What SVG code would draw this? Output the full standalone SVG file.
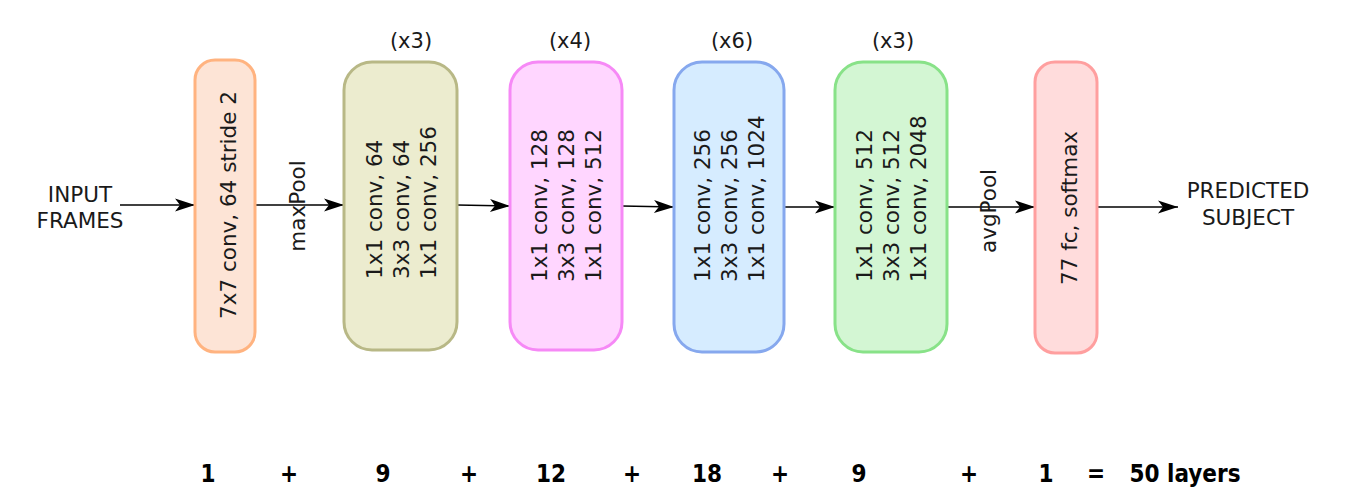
<svg xmlns="http://www.w3.org/2000/svg" width="1364" height="502" viewBox="0 0 1364 502">
<style>
text{font-family:"DejaVu Sans","Liberation Sans",sans-serif;fill:#1a1a1a}
.lbl{font-size:21.5px}
.ext{font-size:21px;text-anchor:middle}
.io{font-size:21.5px;text-anchor:middle}
.sum{font-family:"DejaVu Sans Condensed","DejaVu Sans",sans-serif;font-weight:bold;font-size:24px;text-anchor:middle;fill:#000}
.node rect{stroke-width:3}
.conn line{stroke:#000;stroke-width:1.3;fill:none}
</style>
<defs>
<marker id="ah" markerUnits="userSpaceOnUse" markerWidth="24" markerHeight="16" viewBox="-21 -8 22 16" refX="0" refY="0" orient="auto">
<path d="M0,0 L-20,-6.5 L-15,0 L-20,6.5 Z" fill="#000"/>
</marker>
</defs>
<rect width="1364" height="502" fill="#fff"/>

<g id="connectors" class="conn">
<line x1="120" y1="205" x2="195" y2="205" marker-end="url(#ah)"/>
<line x1="255" y1="205" x2="344" y2="205" marker-end="url(#ah)"/>
<line x1="457" y1="205" x2="510" y2="206" marker-end="url(#ah)"/>
<line x1="622" y1="206" x2="674" y2="207" marker-end="url(#ah)"/>
<line x1="784" y1="207" x2="835" y2="207" marker-end="url(#ah)"/>
<line x1="947" y1="207" x2="1035" y2="207" marker-end="url(#ah)"/>
<line x1="1097" y1="207" x2="1178" y2="207" marker-end="url(#ah)"/>
</g>

<g id="input">
<text class="io" x="80" y="202">INPUT</text>
<text class="io" x="80" y="228">FRAMES</text>
</g>

<g id="node-conv1" class="node">
<rect x="195" y="60" width="60" height="292" rx="20" fill="#fde4d6" stroke="#ffb380"/>
<text class="lbl" text-anchor="middle" transform="translate(236,205) rotate(-90)">7x7 conv, 64 stride 2</text>
</g>

<text class="lbl" text-anchor="middle" transform="translate(305,206) rotate(-90)">maxPool</text>

<g id="node-conv2" class="node">
<rect x="344" y="62" width="113" height="288" rx="28" fill="#ececcf" stroke="#b8b886"/>
<text class="lbl" transform="translate(382,279) rotate(-90)">1x1 conv, 64</text>
<text class="lbl" transform="translate(409,279) rotate(-90)">3x3 conv, 64</text>
<text class="lbl" transform="translate(436,279) rotate(-90)">1x1 conv, 256</text>
<text class="ext" x="411" y="48">(x3)</text>
</g>

<g id="node-conv3" class="node">
<rect x="510" y="62" width="112" height="288" rx="28" fill="#ffd6ff" stroke="#f689f6"/>
<text class="lbl" transform="translate(547,282) rotate(-90)">1x1 conv, 128</text>
<text class="lbl" transform="translate(574,282) rotate(-90)">3x3 conv, 128</text>
<text class="lbl" transform="translate(601,282) rotate(-90)">1x1 conv, 512</text>
<text class="ext" x="570" y="48">(x4)</text>
</g>

<g id="node-conv4" class="node">
<rect x="674" y="62" width="110" height="290" rx="28" fill="#d6ecff" stroke="#86a8ee"/>
<text class="lbl" transform="translate(710,282) rotate(-90)">1x1 conv, 256</text>
<text class="lbl" transform="translate(737,282) rotate(-90)">3x3 conv, 256</text>
<text class="lbl" transform="translate(764,282) rotate(-90)">1x1 conv, 1024</text>
<text class="ext" x="732" y="48">(x6)</text>
</g>

<g id="node-conv5" class="node">
<rect x="835" y="62" width="112" height="290" rx="28" fill="#d3f6d3" stroke="#88e288"/>
<text class="lbl" transform="translate(872,282) rotate(-90)">1x1 conv, 512</text>
<text class="lbl" transform="translate(899,282) rotate(-90)">3x3 conv, 512</text>
<text class="lbl" transform="translate(926,282) rotate(-90)">1x1 conv, 2048</text>
<text class="ext" x="893" y="48">(x3)</text>
</g>

<text class="lbl" text-anchor="middle" transform="translate(996,211) rotate(-90)">avgPool</text>

<g id="node-fc" class="node">
<rect x="1035" y="62" width="62" height="291" rx="20" fill="#ffdcdc" stroke="#ff9f9f"/>
<text class="lbl" text-anchor="middle" transform="translate(1077,208) rotate(-90)">77 fc, softmax</text>
</g>

<g id="output">
<text class="io" x="1248" y="198">PREDICTED</text>
<text class="io" x="1248" y="225">SUBJECT</text>
</g>

<g id="layer-count">
<text class="sum" x="208" y="482">1</text>
<text class="sum" x="289" y="482">+</text>
<text class="sum" x="383" y="482">9</text>
<text class="sum" x="469" y="482">+</text>
<text class="sum" x="551" y="482">12</text>
<text class="sum" x="632" y="482">+</text>
<text class="sum" x="707" y="482">18</text>
<text class="sum" x="780" y="482">+</text>
<text class="sum" x="859" y="482">9</text>
<text class="sum" x="969" y="482">+</text>
<text class="sum" x="1046" y="482">1</text>
<text class="sum" x="1096" y="482">=</text>
<text class="sum" x="1185" y="482">50 layers</text>
</g>
</svg>
